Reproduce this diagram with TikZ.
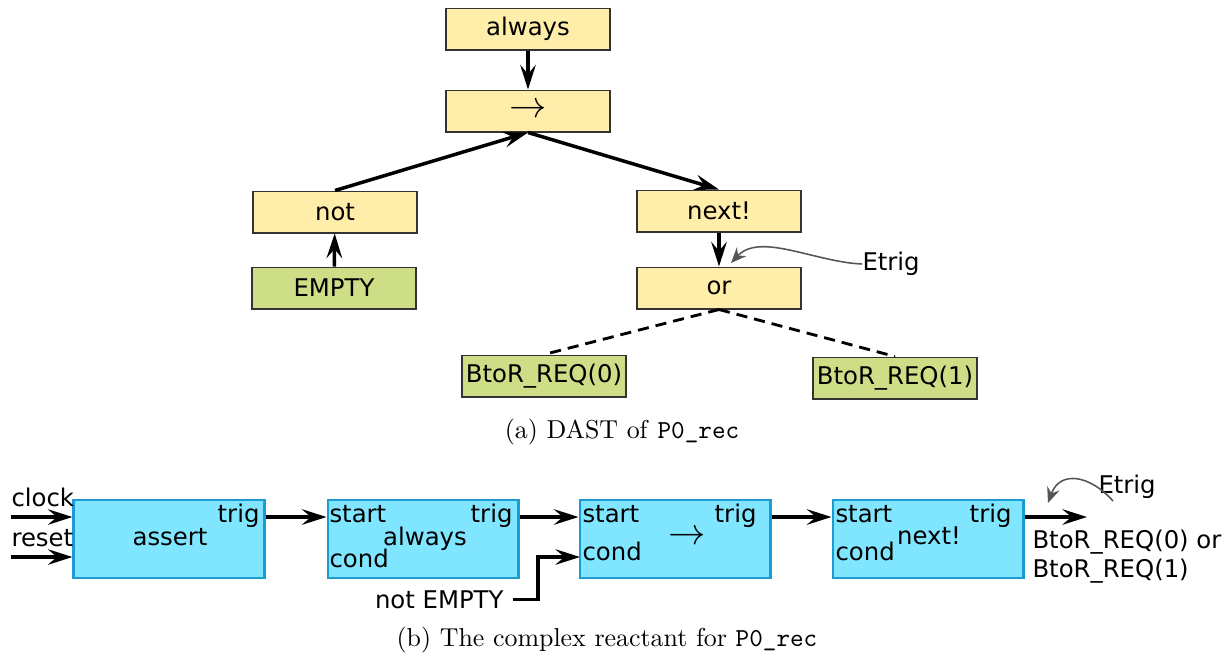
\documentclass[tikz,border=0pt]{standalone}
\usepackage{fontspec}
\newfontfamily\dvs{DejaVu Sans}
\usepackage{tikz}
\usetikzlibrary{arrows.meta,calc,positioning}
\definecolor{astyellow}{HTML}{FFEEAA}
\definecolor{leafgreen}{HTML}{CDDE87}
\definecolor{unitcyan}{HTML}{80E5FF}
\definecolor{unitblue}{HTML}{1B9AD3}
\definecolor{etriggray}{HTML}{555555}
\tikzset{
  astnode/.style={draw=black!80, line width=0.4pt, fill=astyellow, minimum width=63.3pt, minimum height=16.2pt, inner sep=0pt, font=\dvs\fontsize{9.4}{11}\selectfont},
  leafnode/.style={astnode, fill=leafgreen},
  unitbox/.style={draw=unitblue, line width=0.9pt, fill=unitcyan, minimum width=73.6pt, minimum height=30.1pt, inner sep=0pt},
  lbl/.style={inner sep=0pt, font=\dvs\fontsize{9.4}{11}\selectfont},
  flow/.style={-{Stealth[length=9.5pt,width=6pt,inset=3.5pt]}, line width=1.35pt},
  hint/.style={-{Stealth[length=6pt,width=5pt,inset=2pt]}, etriggray, line width=0.6pt},
  caption/.style={inner sep=0pt, font=\fontsize{10}{12}\selectfont}
}
\begin{document}
\begin{tikzpicture}[x=0.386pt, y=-0.386pt]
        \useasboundingbox (0,0) rectangle (1232,657);
        % (a) DAST
        \node[astnode] (alw) at (528,29) {always};
        \node[astnode] (seq) at (528,111) {\fontsize{14}{14}\selectfont$\rightarrow$};
        \node[astnode] (notn) at (335,212) {not};
        \node[leafnode] (empt) at (334,288) {EMPTY};
        \node[astnode] (nxt) at (719,211) {next!};
        \node[astnode] (orn) at (719,288) {or};
        \node[leafnode] (req0) at (544,376) {BtoR\_REQ(0)};
        \node[leafnode] (req1) at (895,378) {BtoR\_REQ(1)};
        \node[lbl, anchor=west] (etriga) at (862,264) {Etrig};
        % tree edges
        \draw[flow] (alw) -- (seq);
        \draw[flow] (notn.north) -- (seq.south);
        \draw[flow] (seq.south) -- (nxt.north);
        \draw[flow] (empt) -- (notn);
        \draw[flow] (nxt) -- (orn);
        \draw[dash pattern=on 4.3pt off 2.7pt, line width=1.1pt] (orn.south) -- (req0.north);
        \draw[dash pattern=on 4.3pt off 2.7pt, line width=1.1pt] (orn.south) -- (req1.north);
        \draw[hint] (etriga.west) .. controls (815,262) and (760,232) .. (731,263);
        \node[caption] (capa) at (622,432) {(a) DAST of \texttt{P0\_rec}};
        % (b) complex reactant
        \node[unitbox] (asrt) at (169,539) {};
        \node[unitbox] (alwb) at (423,539) {};
        \node[unitbox] (seqb) at (675,539) {};
        \node[unitbox] (nxtb) at (928,539) {};
        % texts in the boxes
        \node[lbl, anchor=base] (asrtt) at (170,545) {assert};
        \node[lbl, anchor=base east] (asrttrig) at (260,522) {trig};
        \node[lbl, anchor=base west] (alwstart) at (329,522) {start};
        \node[lbl, anchor=base east] (alwtrig) at (513,522) {trig};
        \node[lbl, anchor=base] (alwt) at (425,545) {always};
        \node[lbl, anchor=base west] (alwcond) at (329,567) {cond};
        \node[lbl, anchor=base west] (seqstart) at (582,522) {start};
        \node[lbl, anchor=base east] (seqtrig) at (757,522) {trig};
        \node[lbl] (seqt) at (687,538) {\fontsize{13.5}{13.5}\selectfont$\rightarrow$};
        \node[lbl, anchor=base west] (seqcond) at (582,560) {cond};
        \node[lbl, anchor=base west] (nxtstart) at (835,522) {start};
        \node[lbl, anchor=base east] (nxttrig) at (1012,522) {trig};
        \node[lbl, anchor=base] (nxtt) at (929,544) {next!};
        \node[lbl, anchor=base west] (nxtcond) at (835,560) {cond};
        % inputs and outputs
        \node[lbl, anchor=base west] (clk) at (11,506) {clock};
        \node[lbl, anchor=base west] (rst) at (11,546) {reset};
        \coordinate (clkin) at (11,517);
        \coordinate (rstin) at (11,557);
        \draw[flow] (clkin) -- (clkin -| asrt.west);
        \draw[flow] (rstin) -- (rstin -| asrt.west);
        \draw[flow] (asrt.east |- clkin) -- (alwb.west |- clkin);
        \draw[flow] (alwb.east |- clkin) -- (seqb.west |- clkin);
        \draw[flow] (seqb.east |- clkin) -- (nxtb.west |- clkin);
        \node[lbl, anchor=base east] (nemp) at (504,608) {not EMPTY};
        \coordinate (condin) at (580,557);
        \draw[flow] ($(nemp.east)+(9,0)$) -- ++(25,0) |- (condin);
        \coordinate (outend) at (1087,517);
        \draw[flow] (nxtb.east |- outend) -- (outend);
        \node[lbl, anchor=base west, align=left] (outl) at (1032,577) {BtoR\_REQ(0) or\\BtoR\_REQ(1)};
        \node[lbl, anchor=base west] (etrigb) at (1098,493) {Etrig};
        \draw[hint] (1113,501) .. controls (1090,475) and (1060,470) .. (1048,503);
        \node[caption] (capb) at (607,640) {(b) The complex reactant for \texttt{P0\_rec}};
      \end{tikzpicture}
\end{document}
